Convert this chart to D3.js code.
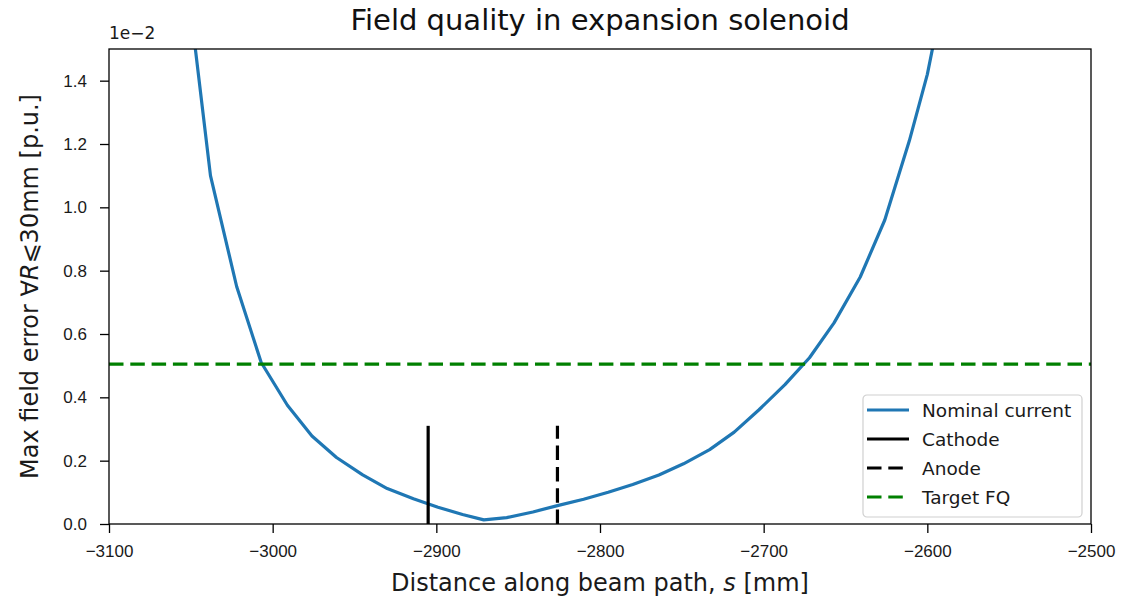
<!DOCTYPE html>
<meta charset="utf-8">
<head>
<style>
body { margin: 0; background: #fff; }
svg { font-family: "DejaVu Sans", sans-serif; }
.axis text { font-size: 17px; fill: #1a1a1a; }
.axis path, .axis line { stroke: #000; stroke-width: 1.3; }
</style>
</head>
<body>
<svg width="1125" height="601"></svg>
<script src="https://d3js.org/d3.v7.min.js"></script>
<script>

// distance along beam path [mm] and max field error [x1e-2 p.u.]
var sPos = [-3053, -3038, -3022, -3007, -2991, -2976, -2961, -2945, -2930, -2914,
            -2899, -2884, -2871, -2857, -2841, -2826, -2810, -2795, -2780, -2764,
            -2749, -2733, -2718, -2703, -2687, -2672, -2657, -2641, -2626, -2611,
            -2600, -2593];
var fieldErr = [1.75, 1.10, 0.75, 0.51, 0.375, 0.278, 0.21, 0.155, 0.112, 0.08,
                0.053, 0.03, 0.013, 0.02, 0.038, 0.058, 0.078, 0.10, 0.125, 0.155,
                0.19, 0.235, 0.29, 0.36, 0.44, 0.525, 0.635, 0.78, 0.96, 1.21,
                1.42, 1.6];

var cathodeS = -2905, anodeS = -2826, markerHeight = 0.31;
var targetFQ = 0.505;

var xTicks = [-3100, -3000, -2900, -2800, -2700, -2600, -2500];
var yTicks = [0.0, 0.2, 0.4, 0.6, 0.8, 1.0, 1.2, 1.4];
var legendLabels = ["Nominal current", "Cathode", "Anode", "Target FQ"];

var svg = d3.select("svg"),
    margin = {left: 109, top: 49, right: 34, bottom: 77},
    width = +svg.attr("width") - margin.left - margin.right,
    height = +svg.attr("height") - margin.top - margin.bottom;

var x = d3.scaleLinear().domain([-3100, -2500]).range([0, width]);
var y = d3.scaleLinear().domain([0, 1.5]).range([height, 0]);

var lw = 3.2, dash = "14.5,6.8";

var g = svg.append("g").attr("transform", "translate(" + margin.left + "," + margin.top + ")");

svg.append("defs").append("clipPath").attr("id", "clip")
  .append("rect").attr("width", width).attr("height", height);

var plot = g.append("g").attr("clip-path", "url(#clip)");

var pts = sPos.map(function(s, i) { return [s, fieldErr[i]]; });

plot.append("path")
    .datum(pts)
    .attr("fill", "none")
    .attr("stroke", "#1f77b4")
    .attr("stroke-width", lw)
    .attr("stroke-linejoin", "round")
    .attr("d", d3.line().x(function(d) { return x(d[0]); }).y(function(d) { return y(d[1]); }));

plot.append("line")
    .attr("x1", x(cathodeS)).attr("x2", x(cathodeS))
    .attr("y1", y(0)).attr("y2", y(markerHeight))
    .attr("stroke", "#000").attr("stroke-width", lw);

plot.append("line")
    .attr("x1", x(anodeS)).attr("x2", x(anodeS))
    .attr("y1", y(0)).attr("y2", y(markerHeight))
    .attr("stroke", "#000").attr("stroke-width", lw)
    .attr("stroke-dasharray", dash);

plot.append("line")
    .attr("x1", 0).attr("x2", width)
    .attr("y1", y(targetFQ)).attr("y2", y(targetFQ))
    .attr("stroke", "#008000").attr("stroke-width", lw)
    .attr("stroke-dasharray", dash);

// axes
g.append("g").attr("class", "axis")
    .attr("transform", "translate(0," + height + ")")
    .call(d3.axisBottom(x).tickValues(xTicks).tickSize(9).tickPadding(12)
      .tickFormat(function(d) { return String(d).replace("-", "\u2212"); }));

g.append("g").attr("class", "axis")
    .call(d3.axisLeft(y).tickValues(yTicks).tickSize(9).tickPadding(13).tickFormat(d3.format(".1f")));

g.selectAll(".axis .domain").remove();

g.append("rect").attr("width", width).attr("height", height)
    .attr("fill", "none").attr("stroke", "#000").attr("stroke-width", 1.3);

// offset text
g.append("text").attr("x", 0).attr("y", -10.5)
    .attr("font-size", 17).attr("fill", "#1a1a1a").text("1e\u22122");

// title and labels
svg.append("text").attr("x", margin.left + width / 2).attr("y", 30)
    .attr("text-anchor", "middle").attr("font-size", 29).attr("fill", "#111")
    .text("Field quality in expansion solenoid");

var xl = svg.append("text").attr("x", margin.left + width / 2).attr("y", 591)
    .attr("text-anchor", "middle").attr("font-size", 24).attr("fill", "#1a1a1a");
xl.append("tspan").text("Distance along beam path, ");
xl.append("tspan").attr("font-style", "italic").text("s");
xl.append("tspan").text(" [mm]");

var yl = svg.append("text")
    .attr("transform", "translate(38," + (margin.top + height / 2) + ") rotate(-90)")
    .attr("text-anchor", "middle").attr("font-size", 24).attr("fill", "#1a1a1a");
yl.append("tspan").text("Max field error \u2200");
yl.append("tspan").attr("font-style", "italic").text("R");
yl.append("tspan").text("\u2A7D30mm [p.u.]");

// legend
var lg = svg.append("g").attr("transform", "translate(863,395)");
lg.append("rect").attr("width", 219).attr("height", 122).attr("rx", 4)
    .attr("fill", "#fff").attr("fill-opacity", 0.8).attr("stroke", "#d0d0d0").attr("stroke-width", 1.2);

var legendStyles = [
  {color: "#1f77b4", dash: null},
  {color: "#000", dash: null},
  {color: "#000", dash: dash},
  {color: "#008000", dash: dash}
];

legendLabels.forEach(function(label, i) {
  var yy = 15 + i * 29;
  lg.append("line").attr("x1", 4).attr("x2", 46).attr("y1", yy).attr("y2", yy)
    .attr("stroke", legendStyles[i].color).attr("stroke-width", lw)
    .attr("stroke-dasharray", legendStyles[i].dash);
  lg.append("text").attr("x", 59).attr("y", yy + 6.5)
    .attr("font-size", 18.5).attr("fill", "#1a1a1a").text(label);
});

</script>
</body>
</html>
